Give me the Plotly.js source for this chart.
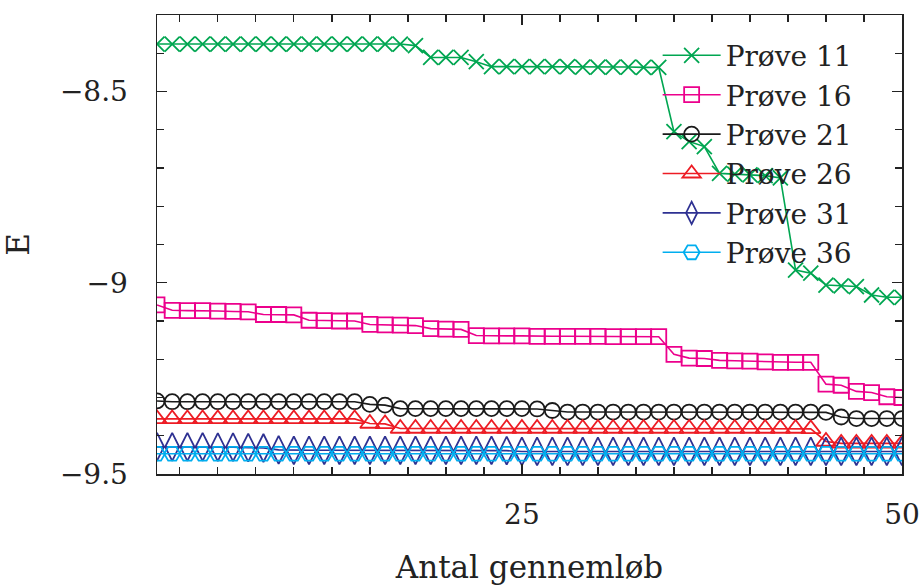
<!DOCTYPE html>
<html>
<head>
<meta charset="utf-8">
<script src="https://cdn.plot.ly/plotly-3.0.1.min.js"></script>
<style>html,body{margin:0;padding:0;background:#fff;}#chart{width:922px;height:585px;}</style>
</head>
<body>
<div id="chart"></div>
<script>
const runs = Array.from({length: 50}, (_, i) => i + 1);

const seriesNames = ["Prøve 11", "Prøve 16", "Prøve 21", "Prøve 26", "Prøve 31", "Prøve 36"];

const prove11 = [
  -8.376, -8.376, -8.376, -8.376, -8.376, -8.376, -8.376, -8.376, -8.376, -8.376,
  -8.376, -8.376, -8.376, -8.376, -8.376, -8.376, -8.376, -8.380, -8.411, -8.411,
  -8.411, -8.422, -8.435, -8.435, -8.435, -8.435, -8.435, -8.435, -8.436, -8.436,
  -8.436, -8.436, -8.437, -8.437, -8.605, -8.631, -8.644, -8.714, -8.716, -8.718,
  -8.720, -8.726, -8.967, -8.975, -9.006, -9.008, -9.010, -9.032, -9.038, -9.038
];
const prove16 = [
  -9.058, -9.072, -9.073, -9.073, -9.074, -9.075, -9.076, -9.083, -9.083, -9.084,
  -9.098, -9.099, -9.100, -9.100, -9.109, -9.110, -9.111, -9.112, -9.120, -9.121,
  -9.122, -9.138, -9.139, -9.139, -9.139, -9.140, -9.140, -9.140, -9.140, -9.140,
  -9.141, -9.141, -9.141, -9.141, -9.187, -9.197, -9.198, -9.203, -9.204, -9.205,
  -9.207, -9.208, -9.208, -9.208, -9.265, -9.268, -9.284, -9.287, -9.298, -9.300
];
const prove21 = [
  -9.309, -9.311, -9.311, -9.311, -9.311, -9.311, -9.311, -9.311, -9.311, -9.311,
  -9.311, -9.311, -9.311, -9.311, -9.318, -9.320, -9.329, -9.329, -9.329, -9.329,
  -9.329, -9.329, -9.329, -9.329, -9.329, -9.330, -9.334, -9.338, -9.338, -9.338,
  -9.338, -9.338, -9.338, -9.338, -9.338, -9.338, -9.338, -9.338, -9.338, -9.338,
  -9.338, -9.338, -9.338, -9.338, -9.339, -9.351, -9.355, -9.355, -9.355, -9.355
];
const prove26 = [
  -9.356, -9.356, -9.356, -9.356, -9.356, -9.356, -9.356, -9.356, -9.356, -9.356,
  -9.356, -9.356, -9.356, -9.356, -9.368, -9.369, -9.381, -9.381, -9.381, -9.381,
  -9.381, -9.381, -9.381, -9.381, -9.381, -9.381, -9.381, -9.381, -9.381, -9.381,
  -9.381, -9.381, -9.381, -9.381, -9.381, -9.381, -9.381, -9.381, -9.381, -9.381,
  -9.381, -9.381, -9.381, -9.382, -9.415, -9.420, -9.420, -9.420, -9.420, -9.420
];
const prove31 = [
  -9.429, -9.429, -9.429, -9.429, -9.430, -9.430, -9.431, -9.432, -9.437, -9.438,
  -9.438, -9.438, -9.438, -9.438, -9.438, -9.438, -9.438, -9.438, -9.438, -9.438,
  -9.438, -9.438, -9.438, -9.439, -9.441, -9.441, -9.441, -9.441, -9.441, -9.441,
  -9.441, -9.441, -9.441, -9.441, -9.441, -9.441, -9.441, -9.441, -9.441, -9.441,
  -9.441, -9.441, -9.441, -9.441, -9.441, -9.441, -9.441, -9.441, -9.441, -9.441
];
const prove36 = [
  -9.447, -9.447, -9.447, -9.447, -9.447, -9.447, -9.447, -9.447, -9.447, -9.447,
  -9.447, -9.447, -9.447, -9.447, -9.447, -9.447, -9.447, -9.447, -9.447, -9.447,
  -9.447, -9.447, -9.447, -9.447, -9.447, -9.447, -9.447, -9.447, -9.447, -9.447,
  -9.447, -9.447, -9.447, -9.447, -9.447, -9.447, -9.447, -9.447, -9.447, -9.447,
  -9.447, -9.447, -9.447, -9.447, -9.447, -9.447, -9.447, -9.447, -9.447, -9.447
];

const xTickVals = [25, 50];
const yTickVals = [-8.5, -9, -9.5];
const yTickText = ["\u22128.5", "\u22129", "\u22129.5"];

const allValues = [prove11, prove16, prove21, prove26, prove31, prove36];
const colors = ["#00A651", "#EC008C", "#1a1a1a", "#ED1C24", "#2E3192", "#00AEEF"];
const symbols = ["x-thin", "square-open", "circle-open", "triangle-up-open", "diamond-tall-open", "hexagon2-open"];
const sizes = [15, 15, 15, 17, 20, 16];

const FONT = "DejaVu Serif";

const traces = allValues.map((vals, i) => ({
  type: "scatter",
  mode: "lines+markers",
  name: seriesNames[i],
  x: runs,
  y: vals,
  line: {color: colors[i], width: 1.6},
  marker: {
    symbol: symbols[i],
    size: sizes[i],
    color: colors[i],
    line: {color: colors[i], width: 1.8}
  }
}));

const axisCommon = {
  showline: true,
  linecolor: "#222",
  linewidth: 1.5,
  mirror: "allticks",
  ticks: "inside",
  tickcolor: "#222",
  tickwidth: 1.3,
  ticklen: 10,
  showgrid: false,
  zeroline: false,
  tickfont: {family: FONT, size: 28, color: "#222"}
};

const layout = {
  width: 922,
  height: 585,
  margin: {l: 157, r: 20, t: 15, b: 111},
  paper_bgcolor: "#fff",
  plot_bgcolor: "#fff",
  showlegend: true,
  font: {family: FONT, color: "#222"},
  xaxis: Object.assign({}, axisCommon, {
    range: [1, 50],
    tickmode: "array",
    tickvals: xTickVals,
    ticklabelstandoff: 15,
    minor: {ticks: "inside", ticklen: 7, tick0: 0, dtick: 2.5, tickcolor: "#222", tickwidth: 1.3},
    title: {text: "Antal gennemløb", font: {family: FONT, size: 31, color: "#222"}, standoff: 28}
  }),
  yaxis: Object.assign({}, axisCommon, {
    range: [-9.5, -8.3],
    tickmode: "array",
    tickvals: yTickVals,
    ticktext: yTickText,
    ticklabelstandoff: 22,
    minor: {ticks: "inside", ticklen: 7, tick0: -9.5, dtick: 0.1, tickcolor: "#222", tickwidth: 1.3},
    title: {text: "E", font: {family: FONT, size: 31, color: "#222"}, standoff: 28}
  }),
  legend: {
    x: 0.672,
    y: 0.966,
    xanchor: "left",
    yanchor: "top",
    bgcolor: "rgba(0,0,0,0)",
    borderwidth: 0,
    itemwidth: 58,
    font: {family: FONT, size: 28, color: "#222"},
    tracegroupgap: 0
  }
};

Plotly.newPlot("chart", traces, layout, {displayModeBar: false, staticPlot: true});
</script>
</body>
</html>
